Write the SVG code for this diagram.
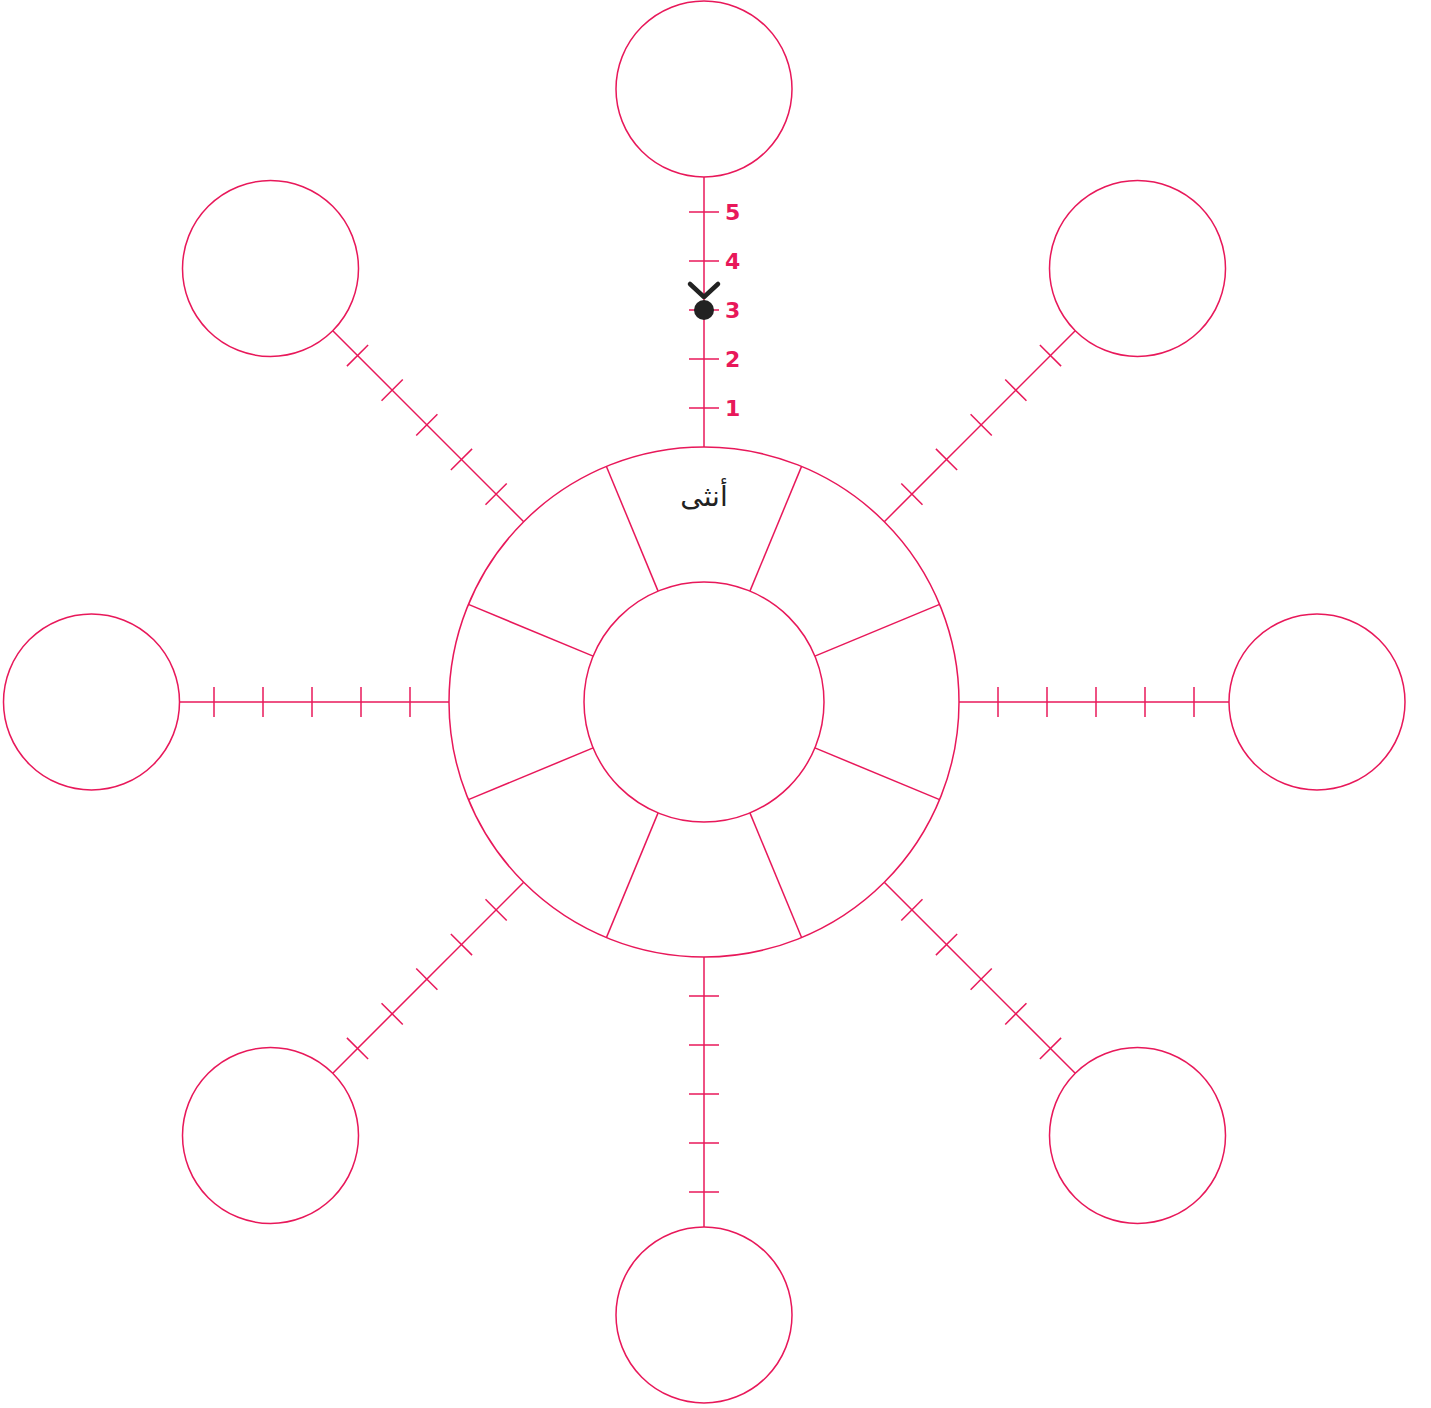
<svg xmlns="http://www.w3.org/2000/svg" xmlns:xlink="http://www.w3.org/1999/xlink" width="1431" height="1408" viewBox="0 0 1431 1408">
<style>
.ln{stroke:#e8185a;stroke-width:1.5;fill:none}
.num{font-family:"DejaVu Sans","Noto Sans",sans-serif;font-weight:bold;font-size:22px;fill:#e8185a}
.lbl{font-family:"DejaVu Sans","Noto Sans",sans-serif;font-size:28px;fill:#222}
</style>
<defs>
<g id="spoke">
<line class="ln" x1="704" y1="447" x2="704" y2="177"/>
<line class="ln" x1="689" y1="408" x2="719" y2="408"/>
<line class="ln" x1="689" y1="359" x2="719" y2="359"/>
<line class="ln" x1="689" y1="310" x2="719" y2="310"/>
<line class="ln" x1="689" y1="261" x2="719" y2="261"/>
<line class="ln" x1="689" y1="212" x2="719" y2="212"/>
</g>
<line id="div" class="ln" x1="749.92" y1="591.13" x2="801.58" y2="466.41"/>
</defs>
<rect width="1431" height="1408" fill="#fff"/>
<g id="connectors">
<use xlink:href="#spoke"/>
<use xlink:href="#spoke" transform="rotate(45 704 702)"/>
<use xlink:href="#spoke" transform="rotate(90 704 702)"/>
<use xlink:href="#spoke" transform="rotate(135 704 702)"/>
<use xlink:href="#spoke" transform="rotate(180 704 702)"/>
<use xlink:href="#spoke" transform="rotate(225 704 702)"/>
<use xlink:href="#spoke" transform="rotate(270 704 702)"/>
<use xlink:href="#spoke" transform="rotate(315 704 702)"/>
</g>
<g id="hub">
<circle class="ln" cx="704" cy="702" r="255"/>
<circle class="ln" cx="704" cy="702" r="120"/>
<use xlink:href="#div"/>
<use xlink:href="#div" transform="rotate(45 704 702)"/>
<use xlink:href="#div" transform="rotate(90 704 702)"/>
<use xlink:href="#div" transform="rotate(135 704 702)"/>
<use xlink:href="#div" transform="rotate(180 704 702)"/>
<use xlink:href="#div" transform="rotate(225 704 702)"/>
<use xlink:href="#div" transform="rotate(270 704 702)"/>
<use xlink:href="#div" transform="rotate(315 704 702)"/>
<text class="lbl" x="704" y="506" text-anchor="middle">أنثى</text>
</g>
<g id="node-top"><circle class="ln" cx="704" cy="89" r="88"/></g>
<g id="node-top-right"><circle class="ln" cx="1137.5" cy="268.5" r="88"/></g>
<g id="node-right"><circle class="ln" cx="1317" cy="702" r="88"/></g>
<g id="node-bottom-right"><circle class="ln" cx="1137.5" cy="1135.5" r="88"/></g>
<g id="node-bottom"><circle class="ln" cx="704" cy="1315" r="88"/></g>
<g id="node-bottom-left"><circle class="ln" cx="270.5" cy="1135.5" r="88"/></g>
<g id="node-left"><circle class="ln" cx="91.5" cy="702" r="88"/></g>
<g id="node-top-left"><circle class="ln" cx="270.5" cy="268.5" r="88"/></g>
<g id="scale-labels">
<text class="num" x="725" y="220">5</text>
<text class="num" x="725" y="269">4</text>
<text class="num" x="725" y="318">3</text>
<text class="num" x="725" y="367">2</text>
<text class="num" x="725" y="416">1</text>
</g>
<g id="marker">
<polyline points="690,284 704,297 718,284" fill="none" stroke="#222" stroke-width="4.5" stroke-linecap="round" stroke-linejoin="round"/>
<circle cx="704" cy="310" r="10" fill="#222"/>
</g>
</svg>
